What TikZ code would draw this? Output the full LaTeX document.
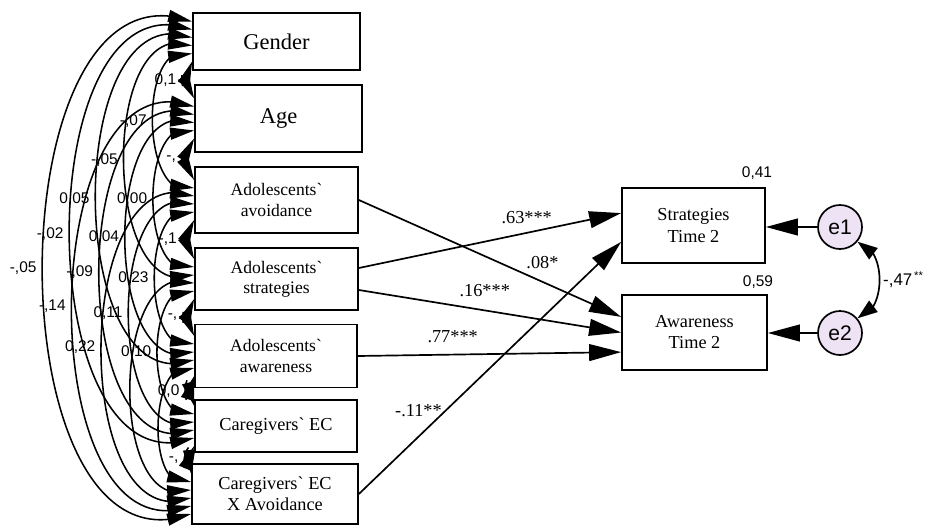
\documentclass[tikz,border=0pt]{standalone}
\usepackage{fontspec}
\setmainfont{Liberation Serif}
\newfontfamily\arialfont{Liberation Sans}
\usetikzlibrary{arrows.meta,bending}
\definecolor{errfill}{RGB}{238,226,245}

\begin{document}
\begin{tikzpicture}[x=0.025cm,y=-0.025cm]
\useasboundingbox (0,0) rectangle (949,527);

      \begin{scope}[every node/.style={draw,line width=1.2pt,fill=white,align=center,inner sep=1pt,font=\fontsize{12.5}{14.5}\selectfont}]
        \node[minimum width=4.175cm,minimum height=1.425cm,font=\fontsize{16}{18}\selectfont] (gender) at (276.5,41.5) {Gender};
        \node[minimum width=4.175cm,minimum height=1.675cm,font=\fontsize{16}{18}\selectfont] (age) at (278.5,118.5) {Age};
        \node[minimum width=4.075cm,minimum height=1.65cm] (avoid) at (276.5,200) {Adolescents\textasciigrave\\avoidance};
        \node[minimum width=4.075cm,minimum height=1.55cm] (strat) at (276.5,279) {Adolescents\textasciigrave\\strategies};
        \node[minimum width=4.05cm,minimum height=1.575cm] (aware) at (276,356) {Adolescents\textasciigrave\\awareness};
        \node[minimum width=4.05cm,minimum height=1.3cm,font=\fontsize{13}{15}\selectfont] (ec) at (276,426) {Caregivers\textasciigrave{} EC};
        \node[minimum width=4.15cm,minimum height=1.5cm,font=\fontsize{13}{15}\selectfont] (ecx) at (275,494) {Caregivers\textasciigrave{} EC\\X Avoidance};
        \node[minimum width=3.575cm,minimum height=1.875cm,font=\fontsize{13}{15}\selectfont] (stratT) at (693.5,225.5) {Strategies\\Time 2};
        \node[minimum width=3.625cm,minimum height=1.875cm,font=\fontsize{13}{15}\selectfont] (awareT) at (694.5,332.5) {Awareness\\Time 2};
      \end{scope}

      \begin{scope}[every node/.style={circle,draw,line width=1.2pt,fill=errfill,minimum size=1.1cm,inner sep=0pt,font=\arialfont\fontsize{15}{17}\selectfont}]
        \node (e1) at (840,227) {e1};
        \node (e2) at (840,333) {e2};
      \end{scope}

      \begin{scope}[every node/.style={font=\arialfont\fontsize{11}{13}\selectfont}]
        \node (r1) at (757,173) {0,41};
        \node (r2) at (758,282) {0,59};
      \end{scope}

      \begin{scope}[every node/.style={font=\fontsize{13}{15}\selectfont,inner sep=2pt}]

        \begin{scope}[every edge/.style={draw,line width=1.2pt,-{Triangle[length=0.8cm,width=0.42cm]}}]
          \path (avoid.east) edge node[pos=0.7,above=7pt] {.08*} ([yshift=0.39cm]awareT.west);
          \path ([yshift=0.275cm]strat.east) edge node[pos=0.64,above=4pt] {.63***} ([yshift=0.31cm]stratT.west);
          \path ([yshift=-0.275cm]strat.east) edge node[pos=0.48,above=7pt] {.16***} (awareT.west);
          \path (aware.east) edge node[pos=0.36,above=6pt] {.77***} ([yshift=-0.49cm]awareT.west);
          \path (ecx.east) edge node[pos=0.33,left] {-.11**} ([yshift=-0.41cm]stratT.west);
          \path (e1) edge (e1 -| stratT.east);
          \path (e2) edge (e2 -| awareT.east);
        \end{scope}

        \begin{scope}[every edge/.style={draw,line width=1.2pt,{Triangle[length=0.5cm,width=0.35cm]}-{Triangle[length=0.5cm,width=0.35cm]},bend left=80}]
          \path (e1.-40) edge node[right,font=\arialfont\fontsize{12}{14}\selectfont] {-,47\textsuperscript{\,**}} (e2.40);
        \end{scope}

      \end{scope}

      \begin{scope}[every node/.style={font=\arialfont\fontsize{11}{13}\selectfont,anchor=east,inner sep=1pt,xshift=-2.5pt}]

        \begin{scope}[every edge/.style={draw,line width=1.1pt,{Triangle[length=0.6cm,width=0.3cm]}-{Triangle[length=0.6cm,width=0.3cm]},out=160,in=200,looseness=1.1}]
          \path ([yshift=-0.5cm]gender.west) edge node {0,1} ([yshift=0.5cm]age.west);
          \path ([yshift=-0.3cm]gender.west) edge node {-,07} ([yshift=0.3cm]avoid.west);
          \path ([yshift=-0.1cm]gender.west) edge node {-,05} ([yshift=0.1cm]strat.west);
          \path ([yshift=0.1cm]gender.west) edge node {0,05} ([yshift=-0.1cm]aware.west);
          \path ([yshift=0.3cm]gender.west) edge node {-,02} ([yshift=-0.3cm]ec.west);
          \path ([yshift=0.5cm]gender.west) edge node {-,05} ([yshift=-0.5cm]ecx.west);
          \path ([yshift=-0.5cm]age.west) edge node {-,} ([yshift=0.5cm]avoid.west);
          \path ([yshift=-0.3cm]age.west) edge node {0,00} ([yshift=0.3cm]strat.west);
          \path ([yshift=-0.1cm]age.west) edge node {0,04} ([yshift=0.1cm]aware.west);
          \path ([yshift=0.1cm]age.west) edge node {-,09} ([yshift=-0.1cm]ec.west);
          \path ([yshift=0.3cm]age.west) edge node {-,14} ([yshift=-0.3cm]ecx.west);
          \path ([yshift=-0.5cm]avoid.west) edge node {-,1} ([yshift=0.5cm]strat.west);
          \path ([yshift=-0.3cm]avoid.west) edge node {0,23} ([yshift=0.3cm]aware.west);
          \path ([yshift=-0.1cm]avoid.west) edge node {0,11} ([yshift=0.1cm]ec.west);
          \path ([yshift=0.1cm]avoid.west) edge node {0,22} ([yshift=-0.1cm]ecx.west);
          \path ([yshift=-0.5cm]strat.west) edge node {-,} ([yshift=0.5cm]aware.west);
          \path ([yshift=-0.3cm]strat.west) edge node {0,10} ([yshift=0.3cm]ec.west);
          \path ([yshift=-0.1cm]strat.west) edge ([yshift=0.1cm]ecx.west);
          \path ([yshift=-0.5cm]aware.west) edge node {0,0} ([yshift=0.5cm]ec.west);
          \path ([yshift=-0.3cm]aware.west) edge ([yshift=0.3cm]ecx.west);
          \path ([yshift=-0.5cm]ec.west) edge node {-,} ([yshift=0.5cm]ecx.west);
        \end{scope}

      \end{scope}

\end{tikzpicture}
\end{document}
